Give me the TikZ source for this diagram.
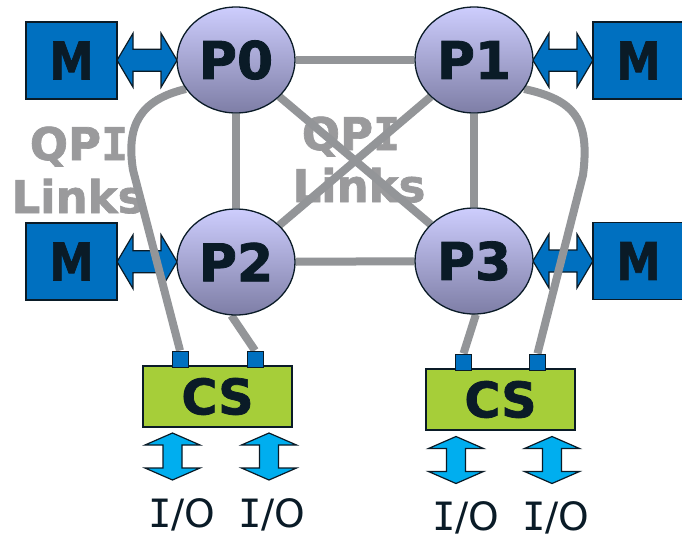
\documentclass[tikz,border=0pt]{standalone}
\usepackage{fontspec}
\usepackage{graphicx}
\setmainfont{DejaVu Sans}
\newfontfamily\serifI{DejaVu Sans Mono}
\newfontfamily\heavy{DejaVu Sans Bold}[FakeBold=1.5]
\newfontfamily\heavyI{DejaVu Sans Mono Bold}[FakeBold=1.5]
\usetikzlibrary{shapes.geometric,calc}

\definecolor{ink}{HTML}{0A1B27}
\definecolor{linkgrey}{HTML}{939598}
\definecolor{labelgrey}{HTML}{9A9A9C}
\definecolor{memblue}{HTML}{0070C0}
\definecolor{iocyan}{HTML}{00AEEF}
\definecolor{csgreen}{HTML}{A6CE39}
\definecolor{cputop}{HTML}{CDCDFD}
\definecolor{cpubot}{HTML}{7E7EA6}

\pgfdeclarelayer{paper}
\pgfdeclarelayer{arrowlayer}
\pgfdeclarelayer{linklayer}
\pgfsetlayers{paper,arrowlayer,linklayer,main}

% capital I with serifs
\newcommand\SerifI{{\serifI I}}
\newcommand\HeavyI{{\heavyI I}}

\tikzset{
  cpu/.style={ellipse, draw=ink, line width=1.3pt, top color=cputop, bottom color=cpubot,
    minimum width=118pt, minimum height=106pt, inner sep=0pt,
    font=\fontsize{52}{52}\heavy, text=ink},
  mem/.style={rectangle, draw=ink, line width=1.5pt, fill=memblue,
    minimum width=91pt, minimum height=77pt, inner sep=0pt,
    font=\fontsize{52}{52}\heavy, text=ink},
  chipset/.style={rectangle, draw=ink, line width=1.2pt, fill=csgreen,
    minimum width=149pt, minimum height=61pt, inner sep=0pt,
    font=\fontsize{49}{49}\heavy, text=ink},
  port/.style={rectangle, draw=ink, line width=1pt, fill=memblue, minimum size=16pt, inner sep=0pt},
  link/.style={draw=linkgrey, line width=8pt},
  qpi/.style={text=labelgrey, font=\fontsize{45}{45}\heavy, anchor=base, inner sep=0pt},
  iolabel/.style={text=ink, font=\fontsize{39}{39}\selectfont, anchor=base, inner sep=0pt},
  blockarrow/.style={draw=ink, line width=1.2pt, line join=miter},
  hdarrow/.pic={
    \path[blockarrow, fill=memblue] (-30,0) -- (-14,-27) -- (-14,-11) -- (14,-11) -- (14,-27)
      -- (30,0) -- (14,27) -- (14,11) -- (-14,11) -- (-14,27) -- cycle;
  },
  vdarrow/.pic={
    \path[blockarrow, fill=iocyan] (0,-23.5) -- (27.5,-11.5) -- (9.5,-11.5) -- (9.5,11.5)
      -- (27.5,11.5) -- (0,23.5) -- (-27.5,11.5) -- (-9.5,11.5) -- (-9.5,-11.5)
      -- (-27.5,-11.5) -- cycle;
  },
}

\begin{document}
\begin{tikzpicture}[x=1pt,y=-1pt]
\useasboundingbox (0,0) rectangle (682,538);
\begin{pgfonlayer}{paper}
  \fill[white] (0,0) rectangle (682,538);
\end{pgfonlayer}

% processors
\node[cpu] (P0) at (236,60) {P0};
\node[cpu] (P1) at (474,60) {P1};
\node[cpu] (P2) at (236,262) {P2};
\node[cpu] (P3) at (474,261) {P3};

% memories
\node[mem] (M0) at (71.5,60.5) {\scalebox{0.86}[1]{M}};
\node[mem] (M1) at (638.5,60.5) {\scalebox{0.86}[1]{M}};
\node[mem] (M2) at (71.5,261.5) {\scalebox{0.86}[1]{M}};
\node[mem] (M3) at (638.5,261) {\scalebox{0.86}[1]{M}};

% chipsets and their ports
\node[chipset] (CS0) at (217.5,396.5) {CS};
\node[chipset] (CS1) at (500.5,399.5) {CS};
\node[port] (s00) at (180,359) {};
\node[port] (s01) at (255,359) {};
\node[port] (s10) at (463.5,362) {};
\node[port] (s11) at (537.5,362) {};

% memory and I/O arrows
\begin{pgfonlayer}{arrowlayer}
  \pic at ($(M0.east)!0.5!(P0.west)$) {hdarrow};
  \pic at ($(P1.east)!0.5!(M1.west)$) {hdarrow};
  \pic at ($(M2.east)!0.5!(P2.west)$) {hdarrow};
  \pic at ($(P3.east)!0.5!(M3.west)$) {hdarrow};
  \pic at (172.5,456.5) {vdarrow};
  \pic at (269,456.5) {vdarrow};
  \pic at (456,460) {vdarrow};
  \pic at (552,460) {vdarrow};
\end{pgfonlayer}

% QPI link labels and links
\begin{pgfonlayer}{linklayer}
  \node[qpi] (qpiL) at (79,160) {QP\HeavyI};
  \node[qpi] (lnkL) at (78,213) {Links};
  \node[qpi] (qpiC) at (351,150) {QP\HeavyI};
  \node[qpi] (lnkC) at (359,202) {Links};

  \path[link] (P0) -- (P1);
  \path[link] (P2) -- (P3);
  \path[link] (P0) -- (P2);
  \path[link] (P1) -- (P3);
  \path[link] (P0) -- (P3);
  \path[link] (P1) -- (P2);

  \path[link] (P0.210) .. controls (140,100) and (126,125) .. (133,170) -- (s00.north);
  \path[link] (P1.-30) .. controls (575,100) and (590,120) .. (583,175) -- (s11.north);
  \path[link] (P2.-95) -- (s01.north);
  \path[link] (P3.-88) -- (s10.north);
\end{pgfonlayer}

% I/O labels
\node[iolabel] (io0) at (182,527) {\SerifI/O};
\node[iolabel] (io1) at (272,527) {\SerifI/O};
\node[iolabel] (io2) at (466,530) {\SerifI/O};
\node[iolabel] (io3) at (556,530) {\SerifI/O};
\end{tikzpicture}
\end{document}
